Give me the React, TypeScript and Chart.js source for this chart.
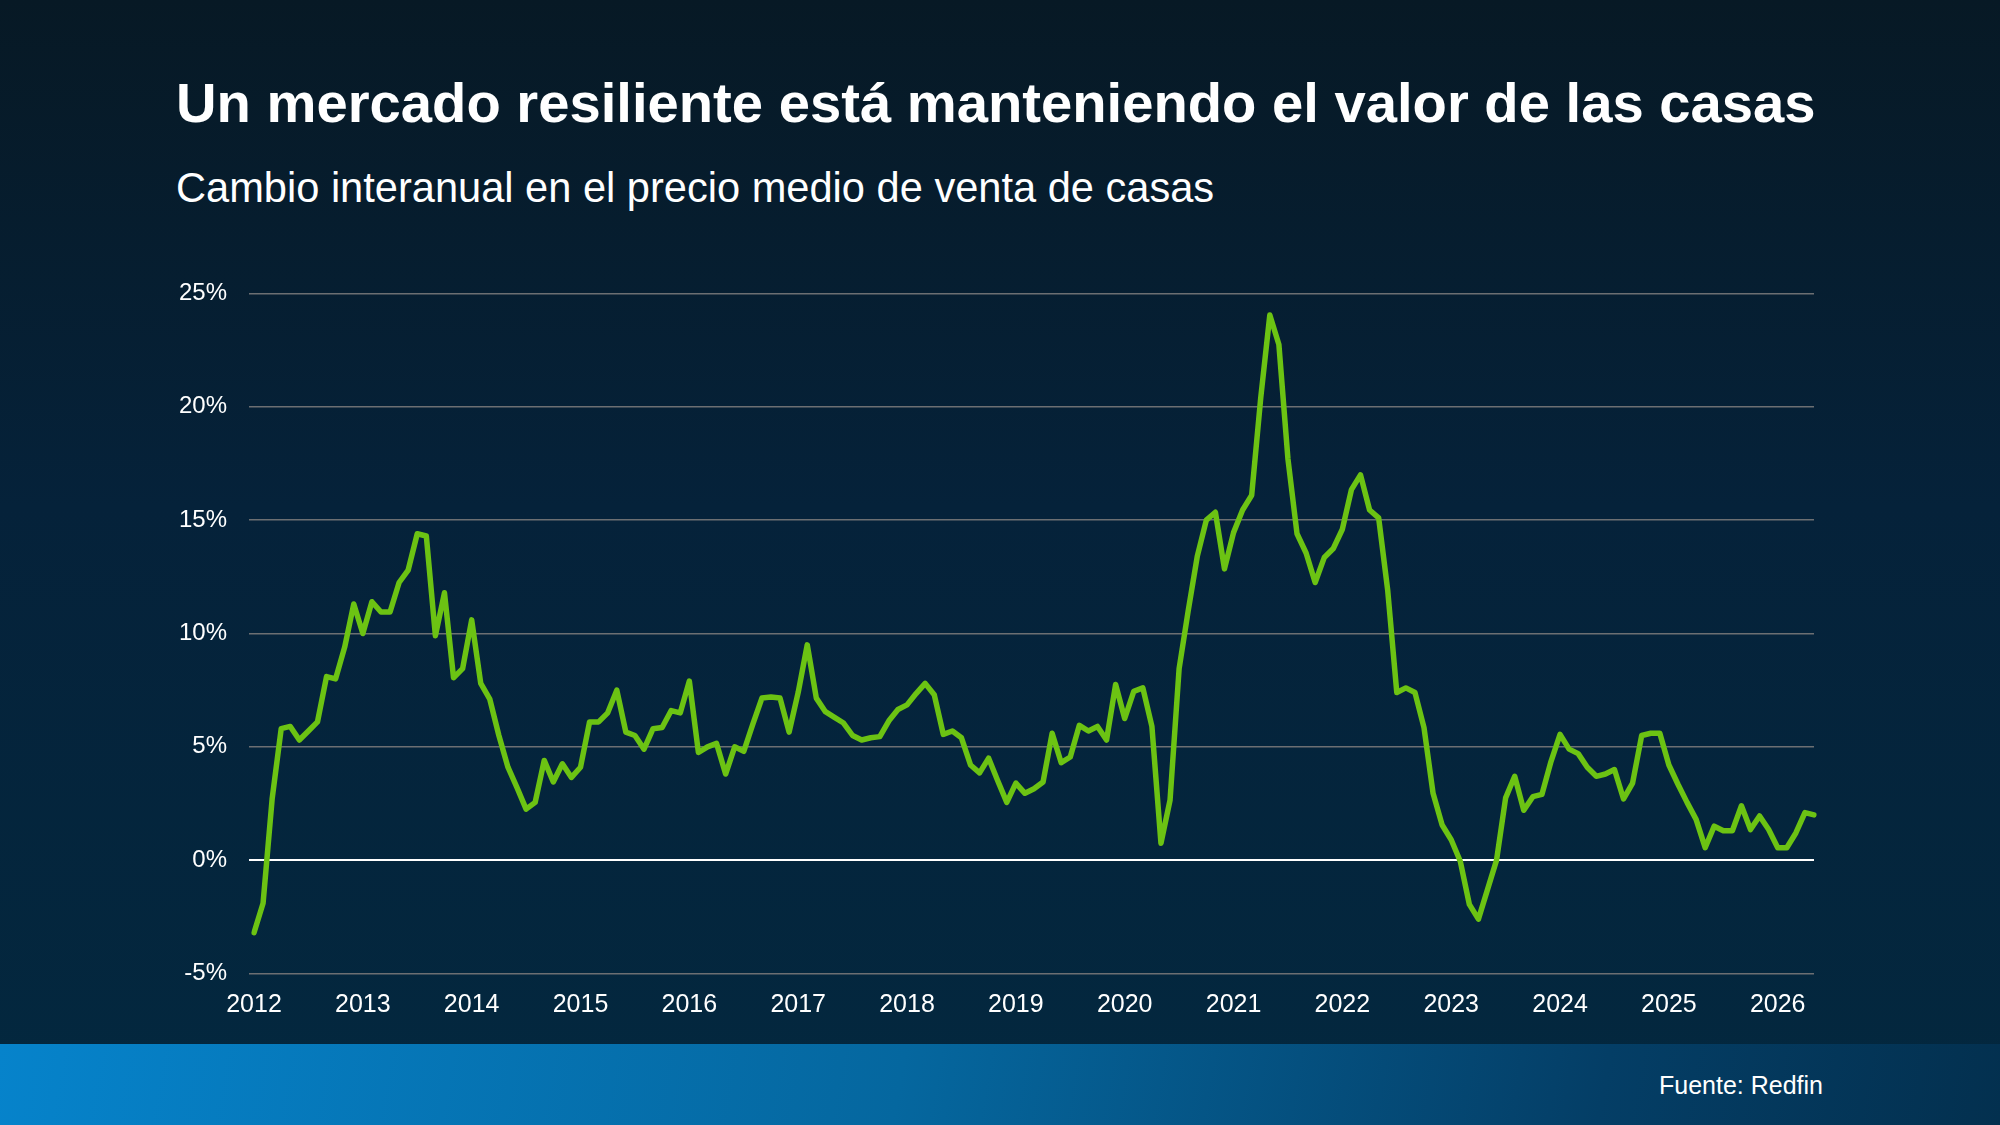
import React, { useEffect, useRef } from "react";
import { Chart, registerables } from "chart.js";

Chart.register(...registerables);

// Monthly year-over-year change in median home sale price (%), starting January 2012
const startYear = 2012;

const yoyChange = [
  -3.2, -1.9, 2.7, 5.8, 5.9, 5.3, 5.7, 6.1, 8.1, 8.0, 9.4, 11.3,
  10.0, 11.4, 10.95, 10.95, 12.25, 12.8, 14.4, 14.3, 9.9, 11.8, 8.05, 8.45,
  10.6, 7.8, 7.1, 5.5, 4.1, 3.2, 2.25, 2.55, 4.4, 3.45, 4.25, 3.65,
  4.1, 6.1, 6.1, 6.5, 7.5, 5.65, 5.5, 4.9, 5.8, 5.85, 6.6, 6.5,
  7.9, 4.75, 5.0, 5.15, 3.8, 5.0, 4.8, 6.0, 7.15, 7.2, 7.15, 5.65,
  7.4, 9.5, 7.15, 6.55, 6.3, 6.05, 5.5, 5.3, 5.4, 5.45, 6.15, 6.65,
  6.85, 7.35, 7.8, 7.3, 5.55, 5.7, 5.4, 4.2, 3.85, 4.5, 3.5, 2.55,
  3.4, 2.95, 3.15, 3.45, 5.6, 4.3, 4.55, 5.95, 5.7, 5.9, 5.3, 7.75,
  6.25, 7.45, 7.6, 5.9, 0.75, 2.65, 8.45, 11.0, 13.4, 15.0, 15.35, 12.85,
  14.45, 15.45, 16.1, 20.4, 24.05, 22.75, 17.7, 14.4, 13.55, 12.25, 13.35, 13.75,
  14.6, 16.35, 17.0, 15.45, 15.1, 11.9, 7.4, 7.6, 7.4, 5.85, 2.95, 1.55,
  0.9, -0.05, -1.95, -2.6, -1.3, 0.0, 2.75, 3.7, 2.2, 2.8, 2.9, 4.35,
  5.55, 4.9, 4.7, 4.1, 3.7, 3.8, 4.0, 2.7, 3.4, 5.5, 5.6, 5.6,
  4.2, 3.35, 2.55, 1.8, 0.55, 1.5, 1.3, 1.3, 2.4, 1.35, 1.95, 1.35,
  0.55, 0.55, 1.2, 2.1, 2.0,
];

const yearLabels = [
  "2012", "2013", "2014", "2015", "2016", "2017", "2018", "2019",
  "2020", "2021", "2022", "2023", "2024", "2025", "2026",
];

const monthLabels = yoyChange.map(
  (_, i) => `${startYear + Math.floor(i / 12)}-${String((i % 12) + 1).padStart(2, "0")}`
);

const yMin = -5;
const yMax = 25;
const yStep = 5;

const title = "Un mercado resiliente está manteniendo el valor de las casas";
const subtitle = "Cambio interanual en el precio medio de venta de casas";
const source = "Fuente: Redfin";

const FONT = '"Liberation Sans", Arial, Helvetica, sans-serif';

export default function App() {
  const canvasRef = useRef<HTMLCanvasElement | null>(null);

  useEffect(() => {
    if (!canvasRef.current) return;
    Chart.defaults.font.family = FONT;

    const chart = new Chart(canvasRef.current, {
      type: "line",
      data: {
        labels: monthLabels,
        datasets: [
          {
            data: yoyChange,
            borderColor: "#6cc313",
            borderWidth: 5.5,
            borderJoinStyle: "round",
            borderCapStyle: "round",
            pointRadius: 0,
            pointHoverRadius: 0,
            tension: 0,
            fill: false,
          },
        ],
      },
      options: {
        responsive: false,
        animation: false,
        devicePixelRatio: 1,
        events: [],
        layout: { padding: { top: 293.5, right: 186, bottom: 0, left: 0 } },
        plugins: {
          legend: { display: false },
          tooltip: { enabled: false },
          title: { display: false },
        },
        scales: {
          x: {
            type: "category",
            offset: false,
            grid: { display: false, drawTicks: false },
            border: { display: false },
            ticks: {
              autoSkip: false,
              maxRotation: 0,
              minRotation: 0,
              padding: 17,
              color: "#ffffff",
              font: { size: 25, family: FONT },
              callback: (_v: any, index: number) =>
                index % 12 === 0 ? yearLabels[index / 12] ?? "" : "",
            },
            afterFit: (scale: any) => {
              scale.height = 151.5;
            },
          },
          y: {
            min: yMin,
            max: yMax,
            grid: {
              color: (ctx: any) => (ctx.tick && ctx.tick.value === 0 ? "#ffffff" : "#6c6f72"),
              lineWidth: (ctx: any) => (ctx.tick && ctx.tick.value === 0 ? 2 : 1.5),
              drawTicks: true,
              tickLength: 5,
            },
            border: { display: false },
            ticks: {
              stepSize: yStep,
              padding: 22,
              color: "#ffffff",
              font: { size: 24, family: FONT },
              callback: (v: any) => `${v}%`,
            },
            afterFit: (scale: any) => {
              scale.width = 254;
            },
          },
        },
      },
    });

    return () => chart.destroy();
  }, []);

  return (
    <div
      style={{
        position: "fixed",
        left: 0,
        top: 0,
        width: 2000,
        height: 1125,
        overflow: "hidden",
        background: "linear-gradient(180deg, #071925 0%, #05223a 45%, #03283f 100%)",
        fontFamily: FONT,
      }}
    >
      <div
        style={{
          position: "absolute",
          left: 0,
          top: 1044,
          width: 2000,
          height: 81,
          background: "linear-gradient(100deg, #0683cb 0%, #05679f 45%, #043e66 80%, #03304f 100%)",
        }}
      />
      <div
        style={{
          position: "absolute",
          left: 176,
          top: 75,
          fontSize: 56.2,
          lineHeight: "56px",
          fontWeight: 700,
          color: "#ffffff",
          whiteSpace: "nowrap",
        }}
      >
        {title}
      </div>
      <div
        style={{
          position: "absolute",
          left: 176,
          top: 167,
          fontSize: 41.6,
          lineHeight: "41px",
          color: "#ffffff",
          whiteSpace: "nowrap",
        }}
      >
        {subtitle}
      </div>
      <div
        style={{
          position: "absolute",
          right: 177,
          top: 1073,
          fontSize: 25,
          lineHeight: "25px",
          color: "#ffffff",
          whiteSpace: "nowrap",
        }}
      >
        {source}
      </div>
      <canvas
        ref={canvasRef}
        width={2000}
        height={1125}
        style={{ position: "absolute", left: 0, top: 0, width: 2000, height: 1125 }}
      />
    </div>
  );
}
